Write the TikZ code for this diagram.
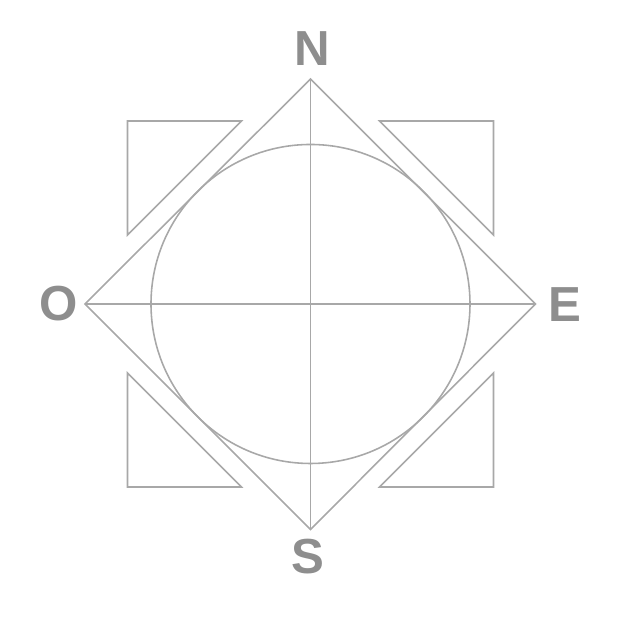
\documentclass[tikz,border=0pt]{standalone}
\usepackage{fontspec}
\setmainfont{Liberation Sans}
\usetikzlibrary{positioning,calc}
\definecolor{roselines}{HTML}{A8A8A8}
\definecolor{roseletter}{HTML}{8E8E8E}
\tikzset{
  roseline/.style={draw=roselines,line width=0.45pt},
  cardinal/.style={text=roseletter,font=\bfseries\fontsize{14}{14}\selectfont,inner sep=0pt}
}
\begin{document}
\begin{tikzpicture}[x=0.01cm,y=-0.01cm]
  \useasboundingbox (0,0) rectangle (626,622);
  \coordinate (c) at (310.5,304);
  % diamond tips
  \coordinate (tipN) at (310.5,79);
  \coordinate (tipS) at (310.5,529.5);
  \coordinate (tipO) at (85,304);
  \coordinate (tipE) at (535.5,304);
  \draw[roseline] (tipN) -- (tipE) -- (tipS) -- (tipO) -- cycle;
  \draw[roseline] (tipN) -- (tipS);
  \draw[roseline] (tipO) -- (tipE);
  \draw[roseline] (c) circle[radius=159.5];
  % corner triangles
  \foreach \sx/\sy in {-1/-1, 1/-1, -1/1, 1/1} {
    \draw[roseline] ($(c)+(\sx*183,\sy*183)$) -- ++(-\sx*114,0)
      -- ($(c)+(\sx*183,\sy*69)$) -- cycle;
  }
  % labels
  \node[cardinal] (labN) at (312.5,49) {N};
  \node[cardinal] (labS) at (307.5,556.5) {S};
  \node[cardinal] (labO) at (58.5,303.5) {O};
  \node[cardinal] (labE) at (565,305) {E};
\end{tikzpicture}
\end{document}
